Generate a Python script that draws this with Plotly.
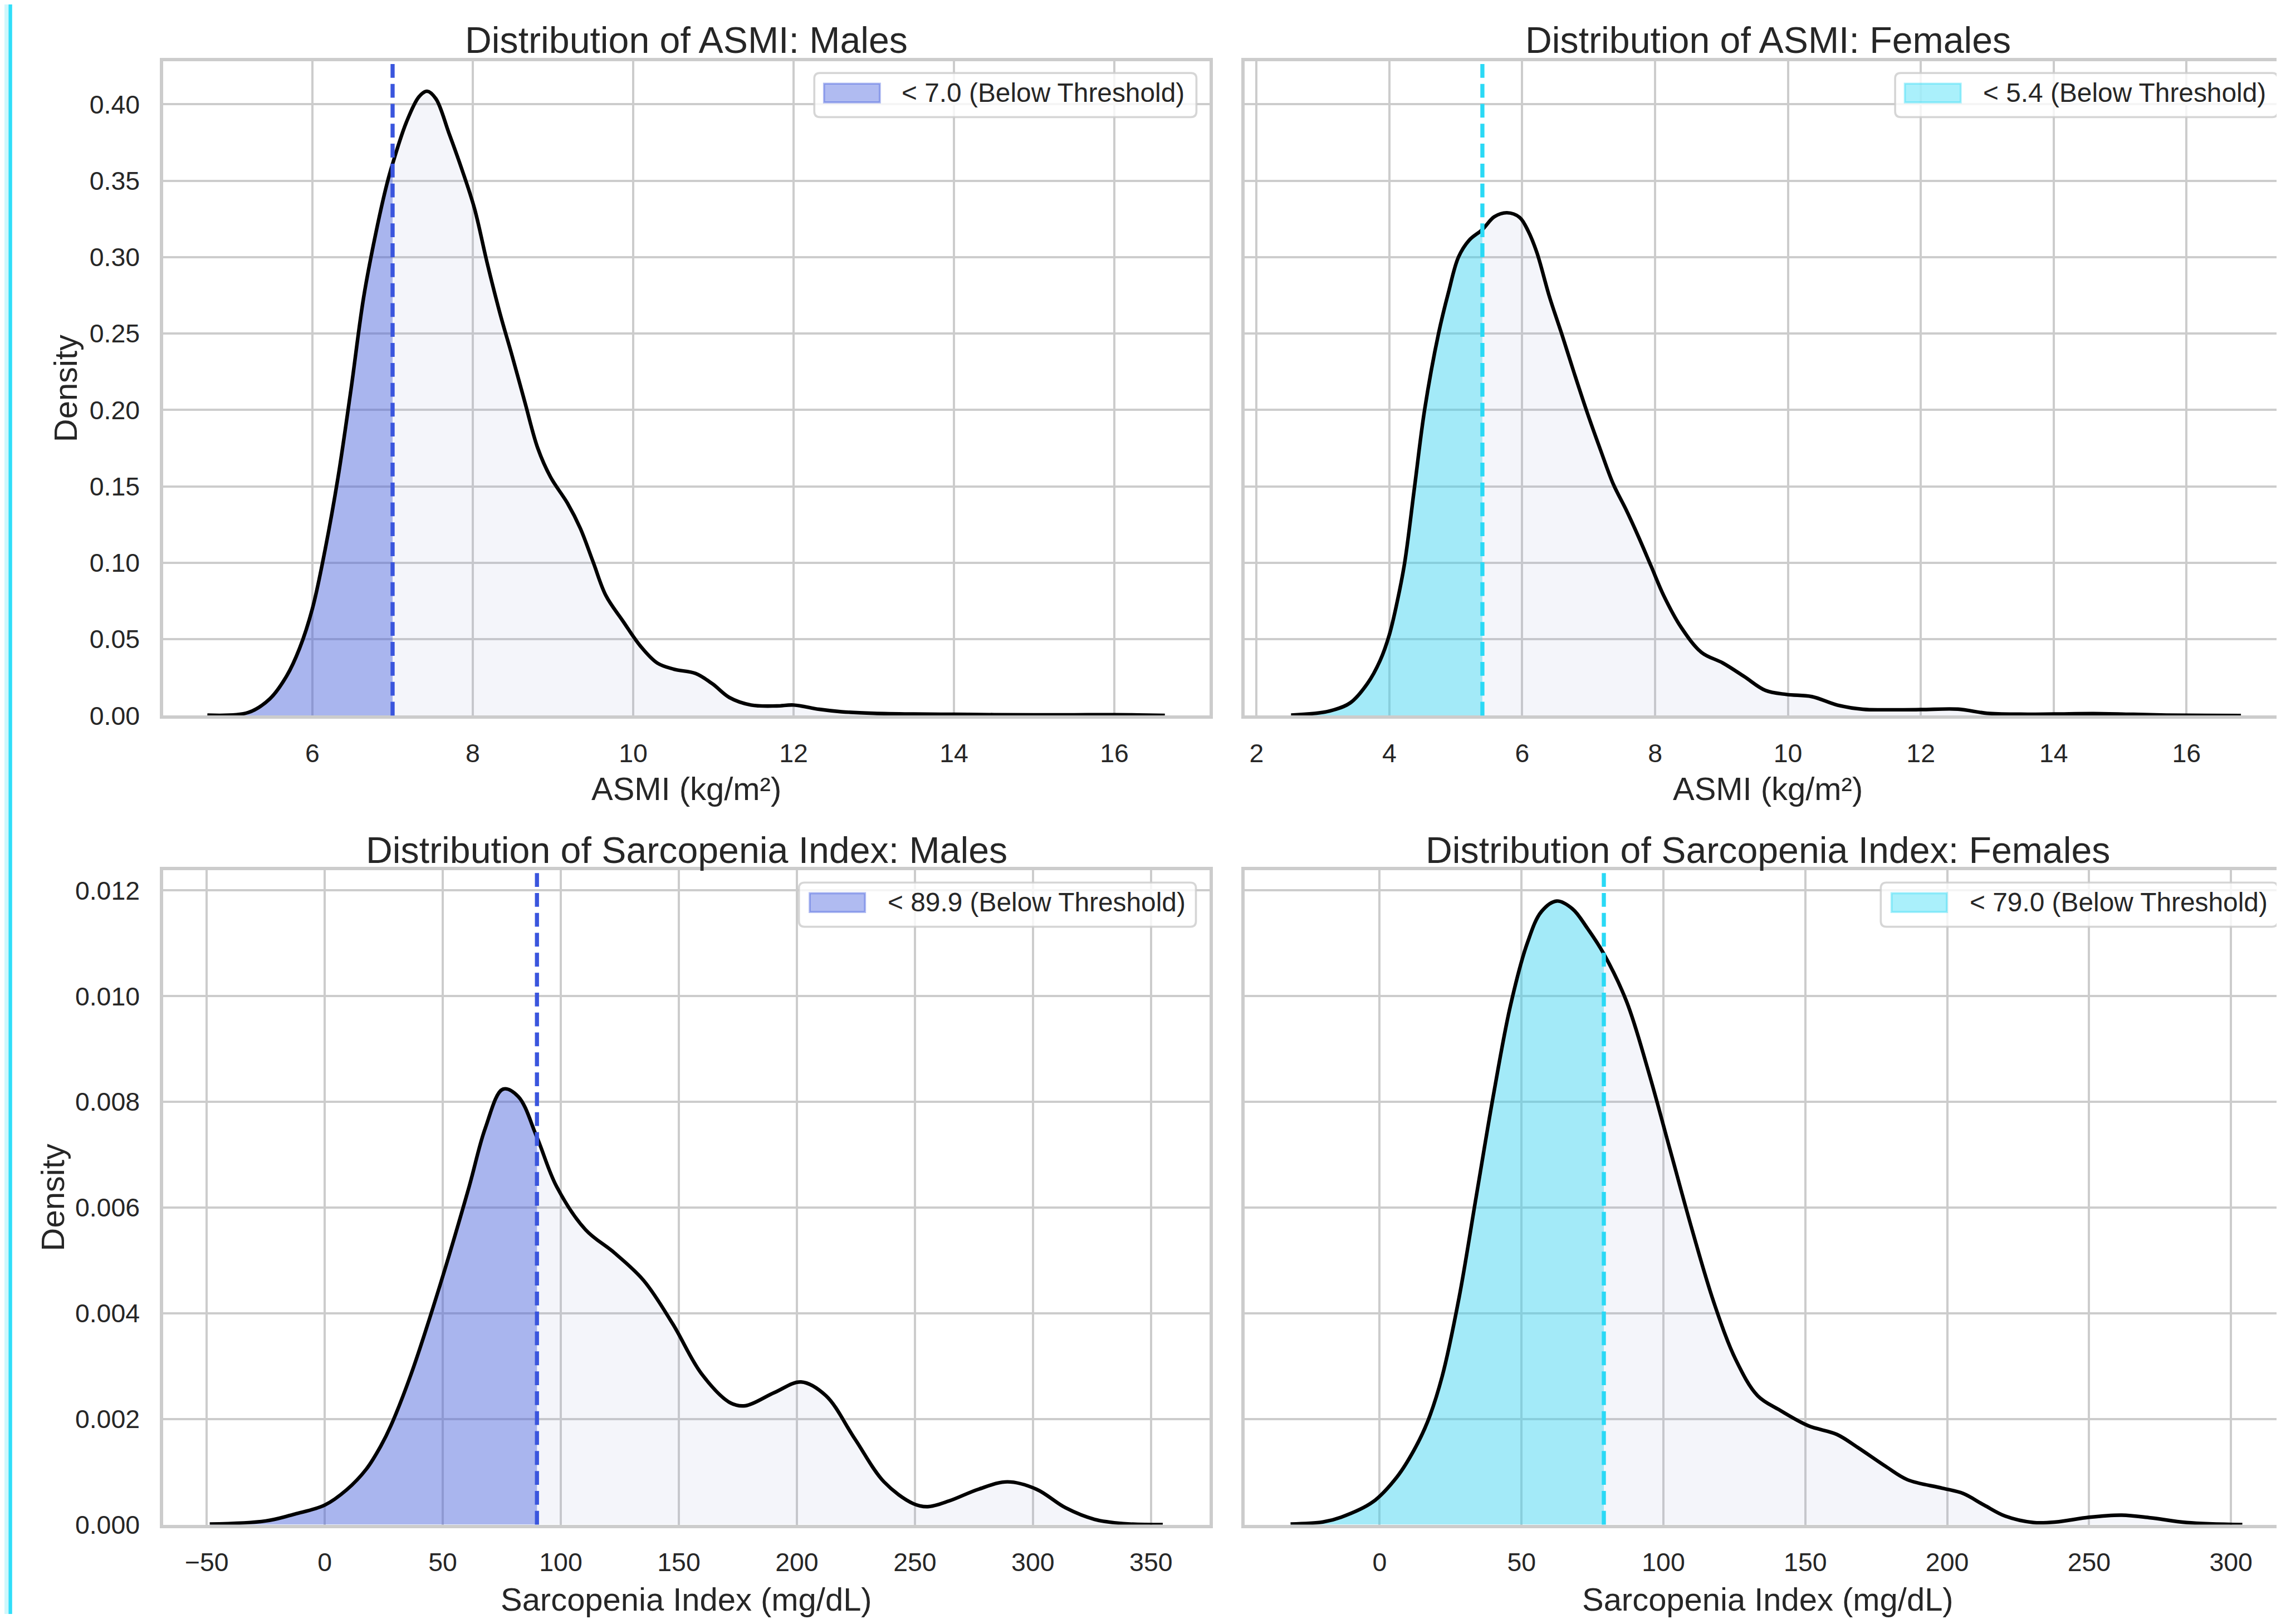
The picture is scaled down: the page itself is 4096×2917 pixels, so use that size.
import plotly.graph_objects as go

# ---------------- reference geometry ----------------
W_REF, H_REF = 4453, 3171
W, H = 4096, 2917
S = W / W_REF

# ---------------- data ----------------
asmi_male_x = [4.69, 5.2, 5.47, 5.68, 5.84, 6.0, 6.16, 6.32, 6.48, 6.64, 6.8, 6.93, 7.0,
               7.17, 7.33, 7.43, 7.54, 7.7, 7.86, 8.02, 8.18, 8.34, 8.49, 8.65, 8.81, 8.97,
               9.18, 9.34, 9.5, 9.66, 9.87, 10.09, 10.3, 10.51, 10.78, 10.99, 11.2, 11.47,
               11.79, 12.0, 12.32, 12.6, 13.0, 13.5, 14.0, 14.5, 15.0, 15.5, 16.0, 16.3, 16.63]
asmi_male_y = [0.0003, 0.002, 0.011, 0.026, 0.044, 0.070, 0.109, 0.156, 0.213, 0.274, 0.318,
               0.348, 0.361, 0.388, 0.405, 0.4085, 0.4036, 0.3815, 0.358, 0.332, 0.296, 0.263,
               0.2355, 0.205, 0.175, 0.156, 0.139, 0.1226, 0.1006, 0.0785, 0.062, 0.0455,
               0.0344, 0.0303, 0.0275, 0.0207, 0.0118, 0.0069, 0.0063, 0.0069, 0.0041, 0.0025,
               0.0015, 0.0010, 0.0008, 0.0006, 0.0005, 0.0005, 0.0006, 0.0004, 0.0001]

asmi_female_x = [2.52, 3.1, 3.41, 3.67, 3.86, 4.0, 4.12, 4.23, 4.38, 4.53, 4.74, 4.89, 5.04,
                 5.2, 5.4, 5.58, 5.77, 5.96, 6.09, 6.22, 6.41, 6.6, 6.79, 6.98, 7.18, 7.37,
                 7.56, 7.75, 7.94, 8.13, 8.39, 8.7, 9.02, 9.34, 9.66, 9.98, 10.36, 10.74, 11.13,
                 11.5, 12.0, 12.56, 13.0, 13.5, 14.0, 14.6, 15.2, 15.7, 16.3, 16.82]
asmi_female_y = [0.0003, 0.003, 0.0083, 0.021, 0.036, 0.053, 0.075, 0.100, 0.150, 0.200, 0.250,
                 0.277, 0.300, 0.311, 0.318, 0.3264, 0.329, 0.326, 0.317, 0.303, 0.274, 0.249,
                 0.223, 0.198, 0.1736, 0.1515, 0.135, 0.117, 0.0978, 0.0785, 0.0579, 0.0413,
                 0.0344, 0.0256, 0.0165, 0.0138, 0.0124, 0.0069, 0.0041, 0.0038, 0.0039, 0.0042,
                 0.0015, 0.0009, 0.0010, 0.0013, 0.0008, 0.0003, 0.0001, 0.0]

si_male_x = [-48.7, -25, -12.7, 0, 9.3, 17.6, 23.9, 28, 36.6, 48.9, 61.2, 68, 75.5, 82,
             89.9, 98.2, 110.5, 122.8, 135.1, 147.4, 159.7, 172, 178.2, 190.5, 201.8, 212.3,
             224.6, 236.9, 249.2, 255.4, 264.6, 276.9, 289.2, 301.5, 313.8, 326.1, 338.4, 355]
si_male_y = [0.00001, 0.00007, 0.0002, 0.00037, 0.00066, 0.00105, 0.0015, 0.00187, 0.00285,
             0.00454, 0.0064, 0.0075, 0.00824, 0.0081, 0.00733, 0.0064, 0.00558, 0.00514,
             0.00462, 0.0038, 0.00285, 0.0023, 0.00225, 0.0025, 0.0027, 0.00244, 0.00162,
             0.00081, 0.0004, 0.00034, 0.00045, 0.00067, 0.00081, 0.00067, 0.00032, 0.0001,
             0.00002, 0.0]

si_female_x = [-31.4, -20, -13.6, -2.4, 6.2, 12, 16.9, 22, 28, 34, 40, 46, 52, 57, 62.4, 68,
               73, 79, 87, 94.7, 102.4, 110.1, 117.8, 125.5, 133.2, 140.9, 151.1, 161, 168.5,
               178.4, 186, 198.3, 205.6, 213, 220.5, 230.4, 238.3, 250, 261.4, 271.6, 284.4, 304]
si_female_y = [0.00001, 0.00005, 0.00014, 0.00043, 0.00091, 0.0014, 0.00195, 0.0028, 0.0043,
               0.0062, 0.0081, 0.0098, 0.0110, 0.0116, 0.0118, 0.01165, 0.0113, 0.0108, 0.0099,
               0.00858, 0.00708, 0.00558, 0.0042, 0.00312, 0.00244, 0.00217, 0.00187, 0.00171,
               0.00146, 0.0011, 0.00085, 0.00069, 0.00059, 0.00037, 0.00016, 0.00004, 0.00005,
               0.00014, 0.00018, 0.00013, 0.00004, 0.0]

thresholds = [7.0, 5.4, 89.9, 79.0]
titles = ["Distribution of ASMI: Males", "Distribution of ASMI: Females",
          "Distribution of Sarcopenia Index: Males", "Distribution of Sarcopenia Index: Females"]
x_labels = ["ASMI (kg/m²)", "ASMI (kg/m²)", "Sarcopenia Index (mg/dL)", "Sarcopenia Index (mg/dL)"]
y_label = "Density"

# ---------------- styles ----------------
FONT = "Liberation Sans, Arial, Helvetica, sans-serif"
TXT = "#262626"
GRID = "#cccccc"
BLUE = (58, 85, 221)
CYAN = (42, 217, 245)
LIGHT_FILL = "rgba(145,155,205,0.10)"


def rgba(c, a):
    return f"rgba({c[0]},{c[1]},{c[2]},{a})"


def px(xf):
    return xf / W_REF


def py(yf):
    return 1 - yf / H_REF


# plot area boxes in reference pixels
L0, L1 = 310, 2353
R0, R1 = 2421, W_REF
R_VIRTUAL = 4464  # right spine of the right-hand panels lies just outside the picture
TOP = (112, 1401)
BOT = (1706, 2995)

panels = [
    dict(x=asmi_male_x, y=asmi_male_y, col=BLUE, xa="x", ya="y", xr=[4.14, 17.19], yr=[0, 0.4281],
         xd=[L0, L1], yd=TOP, dtx=2, dty=0.05, fmt=".2f", showy=True, cx=(L0 + L1) / 2, ylx=119,
         leg=dict(box=(1581, 2327, 135, 222), patch=(1600, 1709, 156, 193), tx=1749)),
    dict(x=asmi_female_x, y=asmi_female_y, col=CYAN, xa="x2", ya="y2", xr=[1.82, 17.49], yr=[0, 0.4281],
         xd=[R0, R1], yd=TOP, dtx=2, dty=0.05, fmt=".2f", showy=False, cx=(R0 + R_VIRTUAL) / 2, ylx=None,
         leg=dict(box=(3691, 4438, 135, 222), patch=(3710, 3819, 156, 193), tx=3861)),
    dict(x=si_male_x, y=si_male_y, col=BLUE, xa="x3", ya="y3", xr=[-68.4, 374.9], yr=[0, 0.01238],
         xd=[L0, L1], yd=BOT, dtx=50, dty=0.002, fmt=".3f", showy=True, cx=(L0 + L1) / 2, ylx=94,
         leg=dict(box=(1551, 2326, 1730, 1817), patch=(1572, 1680, 1751, 1788), tx=1722)),
    dict(x=si_female_x, y=si_female_y, col=CYAN, xa="x4", ya="y4", xr=[-47.6, 319.2], yr=[0, 0.01238],
         xd=[R0, R1], yd=BOT, dtx=50, dty=0.002, fmt=".3f", showy=False, cx=(R0 + R_VIRTUAL) / 2, ylx=None,
         leg=dict(box=(3663, 4438, 1730, 1817), patch=(3684, 3792, 1751, 1788), tx=3834)),
]

fig = go.Figure()
shapes = []
annotations = []
layout_axes = {}

for i, p in enumerate(panels):
    thr = thresholds[i]
    # full density fill
    fig.add_trace(go.Scatter(x=p["x"], y=p["y"], xaxis=p["xa"], yaxis=p["ya"], mode="lines",
                             line=dict(color="rgba(0,0,0,0)", width=0, shape="spline"),
                             fill="tozeroy", fillcolor=LIGHT_FILL, showlegend=False, hoverinfo="skip"))
    # below-threshold fill
    bx = [xv for xv in p["x"] if xv <= thr]
    by = [yv for xv, yv in zip(p["x"], p["y"]) if xv <= thr]
    fig.add_trace(go.Scatter(x=bx, y=by, xaxis=p["xa"], yaxis=p["ya"], mode="lines",
                             line=dict(color="rgba(0,0,0,0)", width=0, shape="spline"),
                             fill="tozeroy", fillcolor=rgba(p["col"], 0.4),
                             name=f"< {thr:.1f} (Below Threshold)", showlegend=False))
    # density line
    fig.add_trace(go.Scatter(x=p["x"], y=p["y"], xaxis=p["xa"], yaxis=p["ya"], mode="lines",
                             line=dict(color="black", width=7 * S, shape="spline"),
                             showlegend=False))
    # threshold line
    shapes.append(dict(type="line", xref=p["xa"], yref=f"{p['ya']} domain", x0=thr, x1=thr, y0=0, y1=1,
                       line=dict(color=rgba(p["col"], 1), width=8 * S, dash=f"{27 * S:.1f}px,{12 * S:.1f}px"),
                       layer="above"))

    xk = "xaxis" + p["xa"][1:]
    yk = "yaxis" + p["ya"][1:]
    is_right = p["xd"][0] == R0
    layout_axes[xk] = dict(domain=[px(p["xd"][0]), px(p["xd"][1])], anchor=p["ya"], range=p["xr"],
                           tick0=0, dtick=p["dtx"], showgrid=True, gridcolor=GRID, gridwidth=4 * S,
                           zeroline=False, showline=True, linecolor=GRID, linewidth=6 * S, mirror=True,
                           ticks="", ticklabelstandoff=int(24 * S),
                           tickfont=dict(family=FONT, size=50.5 * S, color=TXT))
    layout_axes[yk] = dict(domain=[py(p["yd"][1]), py(p["yd"][0])], anchor=p["xa"], range=p["yr"],
                           tick0=0, dtick=p["dty"], tickformat=p["fmt"], showgrid=True, gridcolor=GRID,
                           gridwidth=4 * S, zeroline=False, showline=True, linecolor=GRID,
                           linewidth=6 * S, mirror=not is_right, ticks="", showticklabels=p["showy"],
                           ticklabelstandoff=int(30 * S),
                           tickfont=dict(family=FONT, size=50.5 * S, color=TXT))

    # title
    ytitle = 70 if p["yd"] == TOP else 1666
    annotations.append(dict(text=titles[i], xref="paper", yref="paper", x=px(p["cx"]), y=py(ytitle),
                            xanchor="center", yanchor="middle", showarrow=False,
                            font=dict(family=FONT, size=72 * S, color=TXT)))
    # x label
    ylab = 1546 if p["yd"] == TOP else 3142
    annotations.append(dict(text=x_labels[i], xref="paper", yref="paper", x=px(p["cx"]), y=py(ylab),
                            xanchor="center", yanchor="middle", showarrow=False,
                            font=dict(family=FONT, size=63 * S, color=TXT)))
    # y label
    if p["showy"]:
        annotations.append(dict(text=y_label, xref="paper", yref="paper", x=px(p["ylx"]),
                                y=py((p["yd"][0] + p["yd"][1]) / 2), xanchor="center", yanchor="middle",
                                textangle=-90, showarrow=False,
                                font=dict(family=FONT, size=63 * S, color=TXT)))

    # legend (frame, patch, label)
    bx0, bx1, by0, by1 = p["leg"]["box"]
    x0, x1, yt, yb = px(bx0), px(bx1), py(by0), py(by1)
    rx, ry = 11 / W_REF, 11 / H_REF
    path = (f"M{x0 + rx},{yt} L{x1 - rx},{yt} Q{x1},{yt} {x1},{yt - ry} L{x1},{yb + ry} "
            f"Q{x1},{yb} {x1 - rx},{yb} L{x0 + rx},{yb} Q{x0},{yb} {x0},{yb + ry} "
            f"L{x0},{yt - ry} Q{x0},{yt} {x0 + rx},{yt} Z")
    shapes.append(dict(type="path", xref="paper", yref="paper", path=path,
                       fillcolor="rgba(255,255,255,0.8)", line=dict(color="rgba(204,204,204,0.8)", width=4 * S),
                       layer="above"))
    pxa, pxb, pya, pyb = p["leg"]["patch"]
    shapes.append(dict(type="rect", xref="paper", yref="paper", x0=px(pxa), x1=px(pxb), y0=py(pyb), y1=py(pya),
                       fillcolor=rgba(p["col"], 0.4), line=dict(color=rgba(p["col"], 0.4), width=4 * S),
                       layer="above"))
    annotations.append(dict(text=f"< {thr:.1f} (Below Threshold)", xref="paper", yref="paper",
                            x=px(p["leg"]["tx"]), y=py((pya + pyb) / 2 - 1), xanchor="left", yanchor="middle",
                            showarrow=False, font=dict(family=FONT, size=52 * S, color=TXT)))

# left-edge cyan strip (part of the reference image)
shapes.append(dict(type="rect", xref="paper", yref="paper", x0=0, x1=px(8), y0=0, y1=1,
                   fillcolor="#cff7fc", line=dict(width=0), layer="above"))
shapes.append(dict(type="line", xref="paper", yref="paper", x0=px(11.5), x1=px(11.5), y0=0, y1=1,
                   line=dict(color="#30def9", width=7 * S), layer="above"))

fig.update_layout(width=W, height=H, margin=dict(l=0, r=0, t=0, b=0), paper_bgcolor="white",
                  plot_bgcolor="white", showlegend=False, shapes=shapes, annotations=annotations,
                  font=dict(family=FONT, color=TXT), **layout_axes)

fig.write_html("out.html")
